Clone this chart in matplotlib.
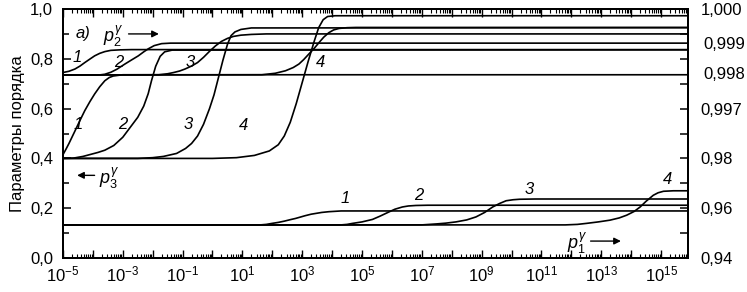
import matplotlib
matplotlib.use("Agg")
import matplotlib.pyplot as plt
from matplotlib.ticker import FixedLocator, LogLocator, NullFormatter

plt.rcParams["font.family"] = ["Liberation Sans", "DejaVu Sans"]
plt.rcParams["mathtext.fontset"] = "custom"
plt.rcParams["mathtext.rm"] = "Liberation Sans"
plt.rcParams["mathtext.it"] = "Liberation Sans:italic"

# curves: log10(x) and order parameter value
# p2 (upper family, right scale)
P2_1_LX = [-5, -4.8, -4.6, -4.43, -4.27, -4.1, -3.94, -3.77, -3.6, -3.4, -3.1, -2.7, 15.9]
P2_1_Y = [0.745, 0.750, 0.759, 0.771, 0.785, 0.799, 0.812, 0.822, 0.829, 0.834, 0.836, 0.837, 0.837]
P2_2_LX = [-5, -3.8, -3.6, -3.4, -3.2, -2.93, -2.7, -2.48, -2.3, -2.15, -1.95, -1.7, -1.4, 15.9]
P2_2_Y = [0.735, 0.735, 0.738, 0.746, 0.758, 0.779, 0.796, 0.812, 0.828, 0.840, 0.853, 0.861, 0.863, 0.863]
P2_3_LX = [-5, -1.8, -1.5, -1.3, -1.1, -0.92, -0.7, -0.5, -0.3, -0.1, 0.1, 0.3, 0.5, 0.7, 0.95, 1.3, 1.8, 15.9]
P2_3_Y = [0.735, 0.736, 0.740, 0.745, 0.751, 0.759, 0.771, 0.785, 0.806, 0.830, 0.852, 0.870, 0.882,
          0.890, 0.895, 0.898, 0.900, 0.900]
P2_4_LX = [-5, 1.65, 2.1, 2.44, 2.7, 2.89, 3.05, 3.22, 3.4, 3.56, 3.72, 3.89, 4.05, 4.23, 4.5, 4.8, 15.9]
P2_4_Y = [0.735, 0.736, 0.742, 0.752, 0.765, 0.779, 0.797, 0.819, 0.842, 0.865, 0.887, 0.905, 0.916,
          0.922, 0.925, 0.926, 0.926]

# p3 (middle family, left scale)
P3_1_LX = [-5, -4.9, -4.8, -4.6, -4.43, -4.27, -4.1, -3.94, -3.77, -3.6, -3.45, -3.32, -3.0, 15.9]
P3_1_Y = [0.415, 0.437, 0.460, 0.510, 0.553, 0.592, 0.628, 0.659, 0.688, 0.712, 0.725, 0.731, 0.736, 0.736]
P3_2_LX = [-5, -4.66, -4.33, -3.83, -3.6, -3.3, -3.0, -2.75, -2.5, -2.3, -2.15, -2.04, -1.9, -1.75,
           -1.6, -1.35, 15.9]
P3_2_Y = [0.400, 0.401, 0.408, 0.424, 0.433, 0.452, 0.485, 0.525, 0.565, 0.610, 0.660, 0.712, 0.770,
          0.810, 0.828, 0.835, 0.836]
P3_3_LX = [-5, -2.5, -2.0, -1.64, -1.2, -0.9, -0.7, -0.5, -0.3, -0.1, 0.05, 0.2, 0.35, 0.5, 0.62,
           0.75, 0.95, 1.3, 15.9]
P3_3_Y = [0.400, 0.400, 0.403, 0.408, 0.420, 0.440, 0.460, 0.490, 0.537, 0.600, 0.655, 0.725, 0.795,
          0.858, 0.893, 0.908, 0.918, 0.924, 0.925]
P3_4_LX = [-5, 0.0, 0.8, 1.4, 1.9, 2.2, 2.4, 2.6, 2.8, 3.0, 3.2, 3.4, 3.55, 3.7, 3.85, 4.1, 15.9]
P3_4_Y = [0.400, 0.400, 0.403, 0.412, 0.430, 0.455, 0.490, 0.545, 0.620, 0.705, 0.790, 0.870, 0.925,
          0.957, 0.970, 0.973, 0.973]

# p1 (lower family, right scale)
P1_1_LX = [-5, 1.6, 1.8, 1.99, 2.2, 2.4, 2.6, 2.78, 3.1, 3.3, 3.45, 3.65, 3.89, 4.3, 15.9]
P1_1_Y = [0.133, 0.133, 0.135, 0.139, 0.143, 0.148, 0.154, 0.159, 0.170, 0.176, 0.179, 0.183, 0.186,
          0.189, 0.189]
P1_2_LX = [-5, 4.3, 4.5, 4.68, 5.0, 5.35, 5.6, 5.9, 6.1, 6.35, 6.55, 6.8, 7.2, 15.9]
P1_2_Y = [0.133, 0.133, 0.135, 0.139, 0.145, 0.155, 0.168, 0.185, 0.196, 0.205, 0.209, 0.211, 0.212, 0.212]
P1_3_LX = [-5, 7.0, 7.5, 7.8, 8.14, 8.5, 8.81, 9.1, 9.37, 9.6, 9.82, 10.05, 10.27, 10.8, 15.9]
P1_3_Y = [0.133, 0.133, 0.137, 0.140, 0.145, 0.153, 0.165, 0.183, 0.205, 0.219, 0.230, 0.234, 0.236,
          0.237, 0.237]
P1_4_LX = [-5, 11.8, 12.2, 12.5, 12.9, 13.29, 13.6, 13.85, 14.1, 14.3, 14.5, 14.74, 14.9, 15.08, 15.41, 15.9]
P1_4_Y = [0.133, 0.133, 0.135, 0.139, 0.145, 0.152, 0.161, 0.172, 0.187, 0.205, 0.228, 0.252, 0.262,
          0.268, 0.270, 0.270]

CURVES = [
    (P2_1_LX, P2_1_Y), (P2_2_LX, P2_2_Y), (P2_3_LX, P2_3_Y), (P2_4_LX, P2_4_Y),
    (P3_1_LX, P3_1_Y), (P3_2_LX, P3_2_Y), (P3_3_LX, P3_3_Y), (P3_4_LX, P3_4_Y),
    (P1_1_LX, P1_1_Y), (P1_2_LX, P1_2_Y), (P1_3_LX, P1_3_Y), (P1_4_LX, P1_4_Y),
]

# curve numbers: (log10 x, y, text)
CURVE_LABELS = [
    (-4.53, 0.804, "1"), (-3.15, 0.784, "2"), (-0.74, 0.784, "3"), (3.62, 0.784, "4"),
    (-4.50, 0.536, "1"), (-2.99, 0.536, "2"), (-0.81, 0.536, "3"), (1.04, 0.532, "4"),
    (4.43, 0.240, "1"), (6.91, 0.252, "2"), (10.6, 0.276, "3"), (15.2, 0.316, "4"),
]

LEFT_TICKS = [0.0, 0.2, 0.4, 0.6, 0.8, 1.0]
LEFT_LABELS = ["0,0", "0,2", "0,4", "0,6", "0,8", "1,0"]
RIGHT_TICKS = [0.0, 0.2, 0.4, 0.6, 1.0]
RIGHT_LABELS = ["0,94", "0,96", "0,98", "0,997", "1,000"]
RIGHT_EXTRA_TICKS = [0.745, 0.865]
RIGHT_EXTRA_LABELS = ["0,998", "0,999"]
X_LABEL_EXP = [-5, -3, -1, 1, 3, 5, 7, 9, 11, 13, 15]

fig = plt.figure(figsize=(7.47, 2.92), dpi=100)
ax = fig.add_axes([0.0843, 0.1164, 0.8367, 0.8527])

for lx, y in CURVES:
    ax.plot([10 ** v for v in lx], y, color="black", lw=1.2, solid_joinstyle="round")

ax.set_xscale("log")
ax.set_xlim(1e-5, 10 ** 15.9)
ax.set_ylim(0.0, 1.0)

ax.xaxis.set_minor_locator(LogLocator(base=10, subs=range(2, 10), numticks=400))
ax.xaxis.set_minor_formatter(NullFormatter())
ax.set_xticks([10.0 ** e for e in range(-5, 16)])
ax.set_xticklabels([r"$\mathregular{10^{%d}}$" % e if e in X_LABEL_EXP else "" for e in range(-5, 16)])

ax.set_yticks(LEFT_TICKS)
ax.set_yticklabels(LEFT_LABELS)
ax.yaxis.set_minor_locator(FixedLocator([0.1, 0.3, 0.5, 0.7, 0.9]))

ax.tick_params(which="both", direction="in", top=True, right=False, labelsize=12)
ax.tick_params(axis="y", which="major", length=6, width=1.1, pad=7)
ax.tick_params(axis="y", which="minor", length=4, width=1.1)
ax.tick_params(axis="x", which="major", length=6, width=1.0, pad=5)
ax.tick_params(axis="x", which="minor", length=3, width=0.8)
for sp in ax.spines.values():
    sp.set_linewidth(1.4)

ax.set_ylabel("Параметры порядка", fontsize=12, labelpad=4)

ax2 = ax.twinx()
ax2.set_ylim(0.0, 1.0)
ax2.set_yticks(RIGHT_TICKS)
ax2.set_yticklabels(RIGHT_LABELS)
ax2.set_yticks([0.1, 0.3, 0.5, 0.7, 0.8, 0.9], minor=True)
ax2.tick_params(axis="y", which="both", direction="in", length=6, width=1.1, labelsize=12, pad=9)
ax3 = ax.twinx()
ax3.set_ylim(0.0, 1.0)
ax3.set_yticks(RIGHT_EXTRA_TICKS)
ax3.set_yticklabels(RIGHT_EXTRA_LABELS)
ax3.tick_params(axis="y", length=0, labelsize=12, pad=11)
for a in (ax2, ax3):
    for sp in a.spines.values():
        sp.set_linewidth(1.4)

for lx, y, t in CURVE_LABELS:
    ax.text(10 ** lx, y, t, fontsize=12, style="italic", ha="center", va="center")

ax.text(10 ** -4.33, 0.9, "а)", fontsize=12, style="italic", ha="center", va="center")

ax.text(10 ** -3.32, 0.89, r"$p_2^\gamma$", fontsize=13, ha="center", va="center")
ax.annotate("", xy=(10 ** -1.7, 0.9), xytext=(10 ** -2.9, 0.9),
            arrowprops=dict(arrowstyle="-|>", color="black", lw=1.0, mutation_scale=10))
ax.text(10 ** -3.45, 0.32, r"$p_3^\gamma$", fontsize=13, ha="center", va="center")
ax.annotate("", xy=(10 ** -4.62, 0.332), xytext=(10 ** -3.85, 0.332),
            arrowprops=dict(arrowstyle="-|>", color="black", lw=1.0, mutation_scale=10))
ax.text(10 ** 12.18, 0.06, r"$p_1^\gamma$", fontsize=13, ha="center", va="center")
ax.annotate("", xy=(10 ** 13.75, 0.068), xytext=(10 ** 12.55, 0.068),
            arrowprops=dict(arrowstyle="-|>", color="black", lw=1.0, mutation_scale=10))

fig.savefig("out.png", dpi=100)
